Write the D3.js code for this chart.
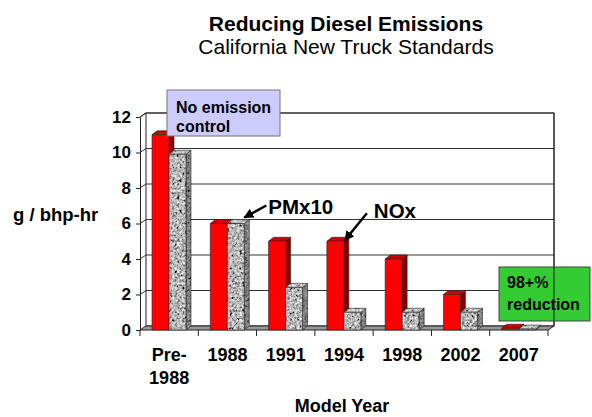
<!DOCTYPE html>
<html>
<head>
<meta charset="utf-8">
<script src="https://cdn.jsdelivr.net/npm/d3@7"></script>
<style>
  body { margin: 0; background: #fff; }
  svg { font-family: "Liberation Sans", Arial, sans-serif; }
</style>
</head>
<body>
<div id="chart"></div>
<script>
// chart values
var categories = ["Pre-1988", "1988", "1991", "1994", "1998", "2002", "2007"];
var catLabels = [["Pre-", "1988"], ["1988"], ["1991"], ["1994"], ["1998"], ["2002"], ["2007"]];
var noxValues = [11, 6, 5, 5, 4, 2, 0.1];
var pmValues = [9.9, 6, 2.4, 1, 1, 1, 0.05];
var yTicks = [0, 2, 4, 6, 8, 10, 12];

var W = 592, H = 417;
var DX = 6, DY = -4;      // wall depth
var BDX = 5, BDY = -4;    // bar depth

var svg = d3.select('#chart').append('svg')
            .attr('width', W)
            .attr('height', H);

var defs = svg.append('defs');
var f = defs.append('filter')
            .attr('id', 'granite')
            .attr('filterUnits', 'userSpaceOnUse')
            .attr('x', 0).attr('y', 0).attr('width', W).attr('height', H);
f.append('feTurbulence')
 .attr('type', 'fractalNoise')
 .attr('baseFrequency', 0.4)
 .attr('numOctaves', 3)
 .attr('seed', 7)
 .attr('result', 'noise');
f.append('feColorMatrix')
 .attr('in', 'noise')
 .attr('type', 'matrix')
 .attr('values', '0.33 0.33 0.33 0 0  0.33 0.33 0.33 0 0  0.33 0.33 0.33 0 0  0 0 0 0 1')
 .attr('result', 'gray');
var ct = f.append('feComponentTransfer').attr('in', 'gray').attr('result', 'tone');
['R', 'G', 'B'].forEach(function(c){
  ct.append('feFunc' + c).attr('type', 'linear').attr('slope', 2.6).attr('intercept', -0.82);
});
f.append('feComposite').attr('in', 'tone').attr('in2', 'SourceGraphic').attr('operator', 'in');

defs.append('marker')
    .attr('id', 'arrow')
    .attr('viewBox', '0 0 10 10')
    .attr('refX', 9).attr('refY', 5)
    .attr('markerWidth', 4).attr('markerHeight', 4)
    .attr('orient', 'auto')
  .append('path')
    .attr('d', 'M0,0 L10,5 L0,10 z')
    .attr('fill', '#000');

// scales
var x = d3.scaleBand().domain(categories).range([140, 548]);
var s = d3.scaleBand().domain(['NOx', 'PM']).range([12, 46]);
var y = d3.scaleLinear().domain([0, 12]).range([330, 117]);

var x0 = x.range()[0], x1 = x.range()[1];

// title
svg.append('text').attr('x', 346).attr('y', 31).attr('text-anchor', 'middle')
   .attr('font-size', '21px').attr('font-weight', 'bold')
   .text('Reducing Diesel Emissions');
svg.append('text').attr('x', 346).attr('y', 54).attr('text-anchor', 'middle')
   .attr('font-size', '21px')
   .text('California New Truck Standards');

// back wall
svg.append('rect')
   .attr('x', x0 + DX).attr('y', y(12) + DY)
   .attr('width', x1 - x0).attr('height', y(0) - y(12))
   .attr('fill', '#fff').attr('stroke', '#222').attr('stroke-width', 1);

// gridlines on the back wall and side wall
var grid = svg.append('g');
yTicks.forEach(function(v){
  if (v == 0) return;
  grid.append('line')
      .attr('x1', x0 + DX).attr('x2', x1 + DX)
      .attr('y1', y(v) + DY).attr('y2', y(v) + DY)
      .attr('stroke', '#333').attr('stroke-width', 1);
  grid.append('line')
      .attr('x1', x0).attr('x2', x0 + DX)
      .attr('y1', y(v)).attr('y2', y(v) + DY)
      .attr('stroke', '#333').attr('stroke-width', 1);
});

// floor
svg.append('polygon')
   .attr('points', [[x0, y(0)], [x1, y(0)], [x1 + DX, y(0) + DY], [x0 + DX, y(0) + DY]].join(' '))
   .attr('fill', '#999').attr('stroke', '#222').attr('stroke-width', 1);

// bars
function drawBar(g, bx, bw, v, kind){
  var top = y(v), base = y(0);
  var front = [[bx, top], [bx + bw, top], [bx + bw, base], [bx, base]];
  var side = [[bx + bw, top], [bx + bw + BDX, top + BDY], [bx + bw + BDX, base + BDY], [bx + bw, base]];
  var cap = [[bx, top], [bx + BDX, top + BDY], [bx + bw + BDX, top + BDY], [bx + bw, top]];
  if (kind == 'NOx'){
    g.append('polygon').attr('points', side.join(' ')).attr('fill', '#8a0000').attr('stroke', '#222').attr('stroke-width', 0.6);
    g.append('polygon').attr('points', cap.join(' ')).attr('fill', '#cc0000').attr('stroke', '#222').attr('stroke-width', 0.6);
    g.append('polygon').attr('points', front.join(' ')).attr('fill', '#ff0000').attr('stroke', '#222').attr('stroke-width', 0.6);
  }
  else{
    [side, cap, front].forEach(function(p, k){
      g.append('polygon').attr('points', p.join(' ')).attr('fill', '#888').attr('filter', 'url(#granite)');
      var shade = k == 0 ? 'rgba(0,0,0,0.3)' : (k == 1 ? 'rgba(255,255,255,0.2)' : 'none');
      g.append('polygon').attr('points', p.join(' ')).attr('fill', shade).attr('stroke', '#222').attr('stroke-width', 0.6);
    });
  }
}

var bars = svg.append('g');
categories.forEach(function(c, i){
  drawBar(bars, x(c) + s('NOx'), s.bandwidth(), noxValues[i], 'NOx');
  drawBar(bars, x(c) + s('PM'), s.bandwidth(), pmValues[i], 'PM');
});

// y axis
var yAxis = svg.append('g')
   .attr('transform', 'translate(' + x0 + ',0)')
   .call(d3.axisLeft(y).tickValues(yTicks).tickSize(4).tickSizeOuter(0).tickPadding(5));
yAxis.select('.domain').attr('stroke', '#222');
yAxis.selectAll('.tick line').attr('stroke', '#222');
yAxis.selectAll('.tick text')
     .attr('font-size', '17px').attr('font-weight', 'bold')
     .attr('font-family', '"Liberation Sans", Arial, sans-serif')
     .attr('fill', '#000');
svg.append('line')
   .attr('x1', x0).attr('y1', y(12)).attr('x2', x0 + DX).attr('y2', y(12) + DY)
   .attr('stroke', '#222');

// x axis boundary ticks
var bounds = categories.map(function(c){ return x(c); }).concat([x1]);
svg.selectAll('.xtick').data(bounds).enter().append('line')
   .attr('class', 'xtick')
   .attr('x1', function(d){ return d; }).attr('x2', function(d){ return d; })
   .attr('y1', y(0)).attr('y2', y(0) + 6)
   .attr('stroke', '#222');

// category labels
var xl = svg.selectAll('.xlab').data(categories).enter().append('text')
   .attr('class', 'xlab')
   .attr('text-anchor', 'middle')
   .attr('font-size', '18px').attr('font-weight', 'bold');
xl.each(function(c, i){
  var t = d3.select(this);
  catLabels[i].forEach(function(line, k){
    t.append('tspan')
     .attr('x', x(c) + x.bandwidth() / 2)
     .attr('y', 361 + k * 23)
     .text(line);
  });
});

// axis titles
svg.append('text').attr('x', 13).attr('y', 221)
   .attr('font-size', '18.5px').attr('font-weight', 'bold')
   .text('g / bhp-hr');
svg.append('text').attr('x', 342).attr('y', 412).attr('text-anchor', 'middle')
   .attr('font-size', '18px').attr('font-weight', 'bold')
   .text('Model Year');

// callouts
var pmHead = [x('1988') + s('PM') + s.bandwidth(), y(pmValues[1]) - 6];
svg.append('line')
   .attr('x1', pmHead[0] + 22).attr('y1', pmHead[1] - 12)
   .attr('x2', pmHead[0]).attr('y2', pmHead[1])
   .attr('stroke', '#000').attr('stroke-width', 2.5)
   .attr('marker-end', 'url(#arrow)');
svg.append('text').attr('x', pmHead[0] + 24).attr('y', pmHead[1] - 4)
   .attr('font-size', '20.5px').attr('font-weight', 'bold')
   .text('PMx10');

var noxHead = [x('1994') + s('NOx') + s.bandwidth() + 1, y(noxValues[3]) - 1];
svg.append('line')
   .attr('x1', noxHead[0] + 22).attr('y1', noxHead[1] - 27)
   .attr('x2', noxHead[0]).attr('y2', noxHead[1])
   .attr('stroke', '#000').attr('stroke-width', 2.5)
   .attr('marker-end', 'url(#arrow)');
svg.append('text').attr('x', noxHead[0] + 29).attr('y', noxHead[1] - 22)
   .attr('font-size', '20.5px').attr('font-weight', 'bold')
   .text('NOx');

// boxes
svg.append('rect').attr('x', 167).attr('y', 90).attr('width', 113).attr('height', 46)
   .attr('fill', '#ccccff').attr('stroke', '#777').attr('stroke-width', 1);
svg.append('text').attr('font-size', '16px').attr('font-weight', 'bold')
   .selectAll('tspan').data(['No emission', 'control']).enter().append('tspan')
   .attr('x', 176).attr('y', function(d, i){ return 113 + i * 19; })
   .text(function(d){ return d; });

svg.append('rect').attr('x', 499).attr('y', 267).attr('width', 91).attr('height', 54)
   .attr('fill', '#33cc33').attr('stroke', '#444').attr('stroke-width', 1);
svg.append('text').attr('font-size', '16px').attr('font-weight', 'bold')
   .selectAll('tspan').data(['98+%', 'reduction']).enter().append('tspan')
   .attr('x', 507).attr('y', function(d, i){ return 288 + i * 22; })
   .text(function(d){ return d; });
svg.append('line')
   .attr('x1', x1 + DX).attr('x2', x1 + DX)
   .attr('y1', y(12) + DY).attr('y2', y(0) + DY)
   .attr('stroke', '#222');
</script>
</body>
</html>
